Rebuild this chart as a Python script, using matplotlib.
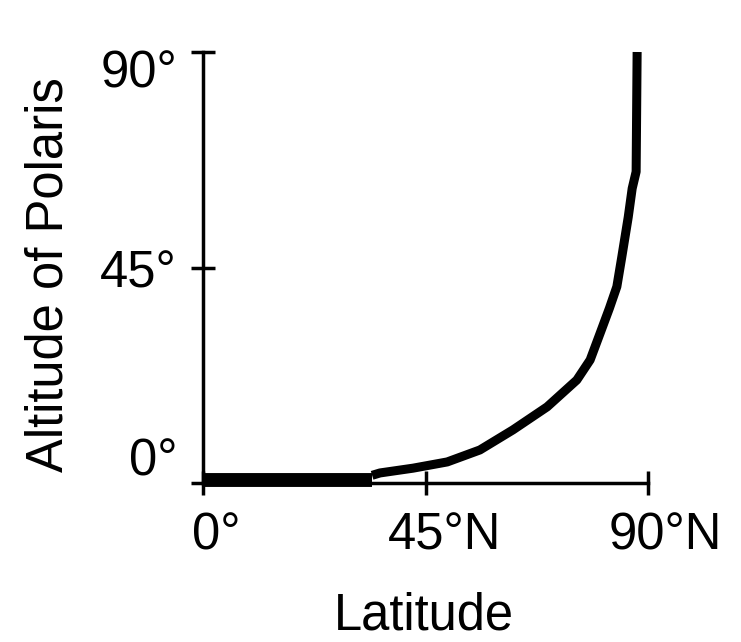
import matplotlib
matplotlib.use("Agg")
import matplotlib.pyplot as plt
import matplotlib.transforms as mtrans

# ---- data ----
flat_lat = [0.0, 34.2]
flat_alt = [0.6, 0.6]
curve_lat = [34.2, 35.8, 42.5, 49.4, 56.0, 62.7, 69.6, 75.6, 78.3, 80.4, 82.2, 83.7, 84.7, 86.0, 86.8, 87.6, 87.8]
curve_alt = [1.6, 2.1, 3.1, 4.4, 6.9, 11.1, 15.9, 21.5, 25.7, 31.5, 36.5, 41.0, 47.2, 55.5, 61.5, 65.0, 90.0]
x_ticks = [0, 45, 90]
x_ticklabels = ["0°", "45°N", "90°N"]
y_ticks = [0, 45, 90]
y_ticklabels = ["0°", "45°", "90°"]
x_title = "Latitude"
y_title = "Altitude of Polaris"

# ---- style / layout ----
XLAB_SHIFT_PX = [13, 19, 17]      # horizontal shift of x tick labels (pixels)
YLAB_SHIFT_PX = [-26, 1, 16]      # downward shift of y tick labels (pixels)
FONT = ["Liberation Sans", "DejaVu Sans"]
FS = 36.5

plt.rcParams['font.family'] = FONT
DPI = 100
fig = plt.figure(figsize=(7.41, 6.42), dpi=DPI, facecolor="white")
ax = fig.add_axes([203/741, 1 - 483/642, 445/741, 431/642])
ax.set_facecolor("white")

ax.plot(flat_lat, flat_alt, color="black", lw=10, solid_capstyle="butt", clip_on=False, zorder=3)
ax.plot(curve_lat, curve_alt, color="black", lw=6.5, solid_capstyle="butt",
        solid_joinstyle="round", clip_on=False, zorder=3)

ax.set_xlim(0, 90)
ax.set_ylim(0, 90)
for s in ["top", "right"]:
    ax.spines[s].set_visible(False)
for s in ["left", "bottom"]:
    ax.spines[s].set_linewidth(2.5)
    ax.spines[s].set_color("black")

ax.set_xticks(x_ticks, x_ticklabels)
ax.set_yticks(y_ticks, y_ticklabels)
ax.tick_params(axis="both", direction="inout", length=17.3, width=2.5, color="black",
               labelsize=FS, labelcolor="black")
ax.tick_params(axis="x", pad=12.2)
ax.tick_params(axis="y", pad=10)

for lab, dx in zip(ax.get_xticklabels(), XLAB_SHIFT_PX):
    lab.set_transform(lab.get_transform() + mtrans.ScaledTranslation(dx / DPI, 0, fig.dpi_scale_trans))
for lab, dy in zip(ax.get_yticklabels(), YLAB_SHIFT_PX):
    lab.set_transform(lab.get_transform() + mtrans.ScaledTranslation(0, -dy / DPI, fig.dpi_scale_trans))

ax.set_xlabel(x_title, fontsize=FS, color="black")
ax.set_ylabel(y_title, fontsize=FS, color="black")
ax.xaxis.set_label_coords(0.4966, -0.2515)
ax.yaxis.set_label_coords(-0.292, 0.4826)

fig.savefig("out.png", dpi=DPI, facecolor="white")
